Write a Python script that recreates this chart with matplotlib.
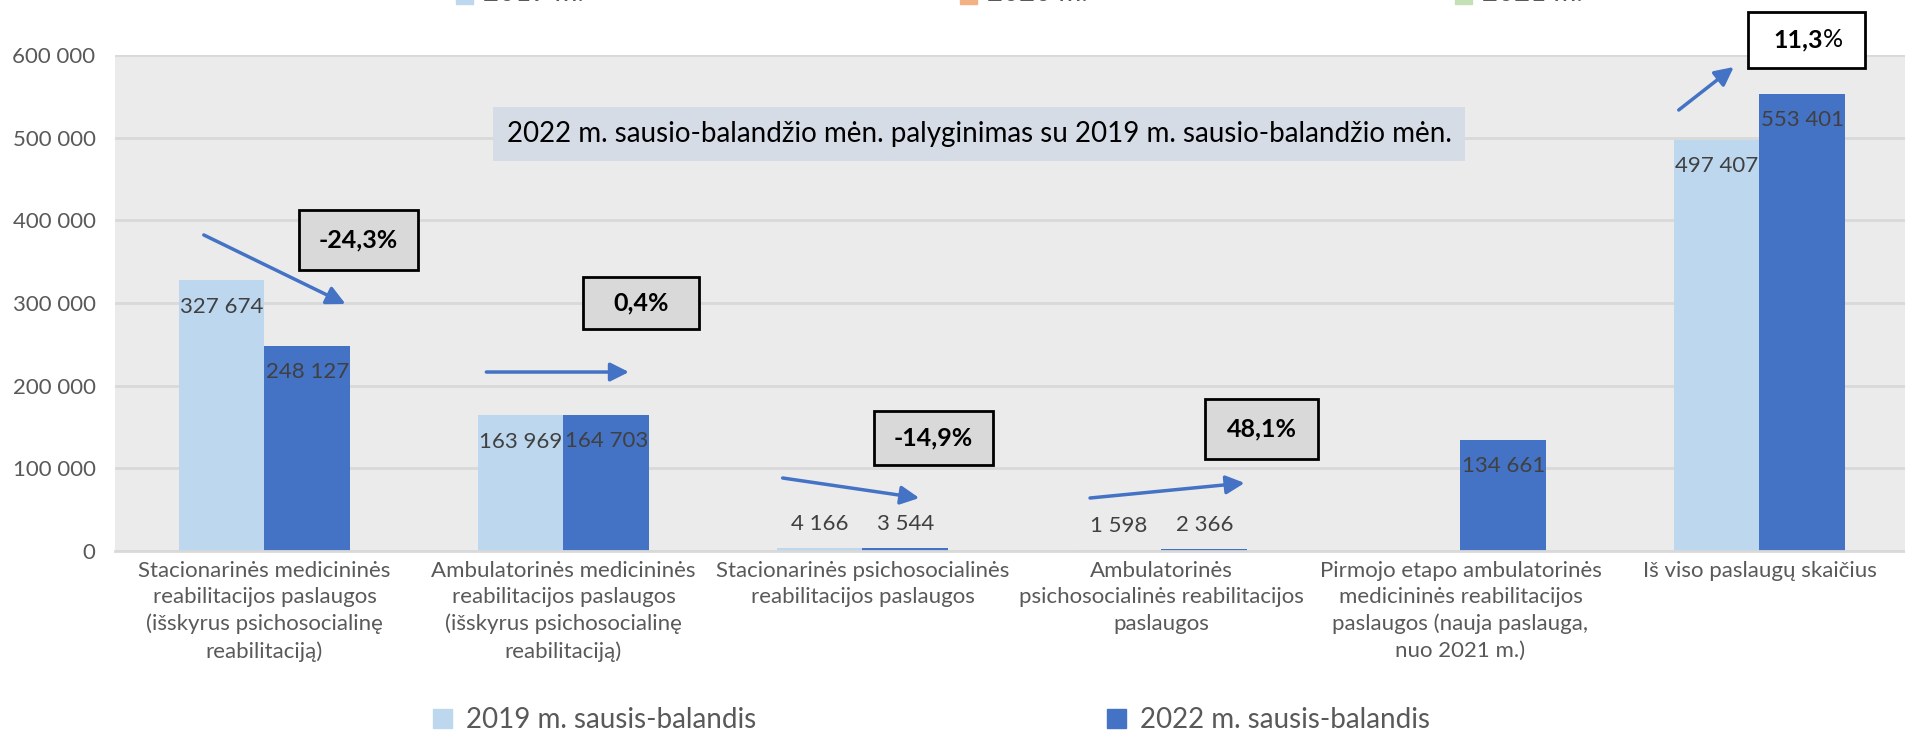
import numpy as np
import matplotlib
matplotlib.use("Agg")
import matplotlib.pyplot as plt
from matplotlib.ticker import FuncFormatter
from matplotlib.patches import Patch, Rectangle

plt.rcParams['font.family'] = ['Lato', 'DejaVu Sans']

# duomenys
kategorijos = [
    "Stacionarinės medicininės\nreabilitacijos paslaugos\n(išskyrus psichosocialinę\nreabilitaciją)",
    "Ambulatorinės medicininės\nreabilitacijos paslaugos\n(išskyrus psichosocialinę\nreabilitaciją)",
    "Stacionarinės psichosocialinės\nreabilitacijos paslaugos",
    "Ambulatorinės\npsichosocialinės reabilitacijos\npaslaugos",
    "Pirmojo etapo ambulatorinės\nmedicininės reabilitacijos\npaslaugos (nauja paslauga,\nnuo 2021 m.)",
    "Iš viso paslaugų skaičius",
]
reiksmes_2019 = [327674, 163969, 4166, 1598, None, 497407]
reiksmes_2022 = [248127, 164703, 3544, 2366, 134661, 553401]
pokyciai = ["-24,3%", "0,4%", "-14,9%", "48,1%", None, "11,3%"]
serijos = ["2019 m. sausis-balandis", "2022 m. sausis-balandis"]
virsaus_legenda = ["2019 m.", "2020 m.", "2021 m."]

sviesi = "#bdd7ee"
tamsi = "#4472c4"
teksto_spalva = "#595959"

def tarpas(v, pos=None):
    return f"{v:,.0f}".replace(",", " ")

y19 = np.array([np.nan if v is None else v for v in reiksmes_2019], dtype=float)
y22 = np.array(reiksmes_2022, dtype=float)
x = np.arange(len(kategorijos))
plotis = 0.286

fig = plt.figure(figsize=(19.06, 7.34), dpi=100)
ax = fig.add_axes([115/1906, 1 - 551/734, 1 - 115/1906, (551 - 55)/734])
ax.set_facecolor("#ebebeb")

b1 = ax.bar(x - plotis/2, y19, plotis, color=sviesi, zorder=2)
b2 = ax.bar(x + plotis/2, y22, plotis, color=tamsi, zorder=2)

# reiksmiu etiketes
for bars, vals in [(b1, y19), (b2, y22)]:
    for b, v in zip(bars, vals):
        if np.isnan(v):
            continue
        cx = b.get_x() + b.get_width()/2
        dy = -19 if v > 50000 else 17
        ax.annotate(tarpas(v), (cx, v), xytext=(0, dy), textcoords="offset points",
                    ha="center", va="center", fontsize=16, color="#404040", zorder=3)

ax.set_xlim(-0.5, 5.49)
ax.set_ylim(0, 600000)
ax.set_yticks(np.arange(0, 600001, 100000))
ax.yaxis.set_major_formatter(FuncFormatter(tarpas))
ax.set_xticks(x)
ax.set_xticklabels(kategorijos, fontsize=16, color=teksto_spalva, va="top")
for lab in ax.get_xticklabels():
    lab.set_linespacing(1.4)
ax.tick_params(axis="y", length=0, labelsize=16, labelcolor=teksto_spalva, pad=14)
ax.tick_params(axis="x", length=0, pad=7)
ax.grid(axis="y", color="#d9d9d9", lw=2, zorder=1)
for s in ["left", "right", "top"]:
    ax.spines[s].set_visible(False)
ax.spines["bottom"].set_color("#d9d9d9")
ax.spines["bottom"].set_linewidth(2)
ax.spines["bottom"].set_zorder(3)

# paaiskinimo laukelis
ax.text(2.39, 504000, "2022 m. sausio-balandžio mėn. palyginimas su 2019 m. sausio-balandžio mėn.",
        ha="center", va="center", fontsize=20, color="black", zorder=4,
        bbox=dict(boxstyle="square,pad=0.5", fc="#d6dce5", ec="none"))

# rodykles ir pokyciu laukeliai
rodykles = [((-0.203, 382300), (0.271, 298800)),
            ((0.742, 216500), (1.219, 216500)),
            ((1.733, 88300), (2.190, 64100)),
            ((2.761, 64100), (3.278, 82300)),
            ((4.730, 533500), (4.914, 585500))]
laukeliu_centrai = [(0.314, 376000), (1.259, 300000), (2.237, 136700), (3.335, 147600), None, (5.157, 618200)]
laukeliu_dydziai = [(0.40, 73000), (0.39, 63000), (0.40, 66500), (0.38, 72500), None, (0.39, 67700)]
laukeliu_spalvos = ["#d9d9d9", "#d9d9d9", "#d9d9d9", "#d9d9d9", None, "white"]

for (p0, p1) in rodykles:
    ax.annotate("", xy=p1, xytext=p0,
                arrowprops=dict(arrowstyle="-|>", color=tamsi, lw=2.5, mutation_scale=28,
                                shrinkA=0, shrinkB=0), zorder=4)

for txt, c, d, fc in zip(pokyciai, laukeliu_centrai, laukeliu_dydziai, laukeliu_spalvos):
    if txt is None:
        continue
    ax.add_patch(Rectangle((c[0] - d[0]/2, c[1] - d[1]/2), d[0], d[1], fc=fc, ec="black",
                           lw=2, zorder=4, clip_on=False))
    if txt == "11,3%":
        ax.annotate("11,3", c, xytext=(12, 0), textcoords="offset points", ha="right",
                    va="center", fontsize=18, fontweight="bold", zorder=5, annotation_clip=False)
        ax.annotate("%", c, xytext=(12, 0), textcoords="offset points", ha="left",
                    va="center", fontsize=18, zorder=5, annotation_clip=False)
    else:
        ax.text(c[0], c[1], txt, ha="center", va="center", fontsize=18, fontweight="bold",
                zorder=5, clip_on=False)

# apkarpyta virsutine legenda
for xx, lab, c in zip([456/1906, 960/1906, 1455/1906], virsaus_legenda, [sviesi, "#f4b183", "#c5e0b4"]):
    fig.patches.append(Rectangle((xx, 1 - 4/734), 17/1906, 17/734, transform=fig.transFigure,
                                 color=c, figure=fig))
    fig.text(xx + 27/1906, 1 - 6/734, lab, fontsize=20, color=teksto_spalva, va="bottom")

# apatine legenda
ranktenos = [Patch(color=sviesi, label=serijos[0]), Patch(color=tamsi, label=serijos[1])]
fig.legend(handles=ranktenos, loc="center left", bbox_to_anchor=(433/1906, 14/734), ncol=2,
           frameon=False, fontsize=20, labelcolor=teksto_spalva, handlelength=0.7,
           handleheight=0.7, handletextpad=0.5, columnspacing=12.6, borderpad=0, borderaxespad=0)

fig.savefig("out.png", dpi=100)
